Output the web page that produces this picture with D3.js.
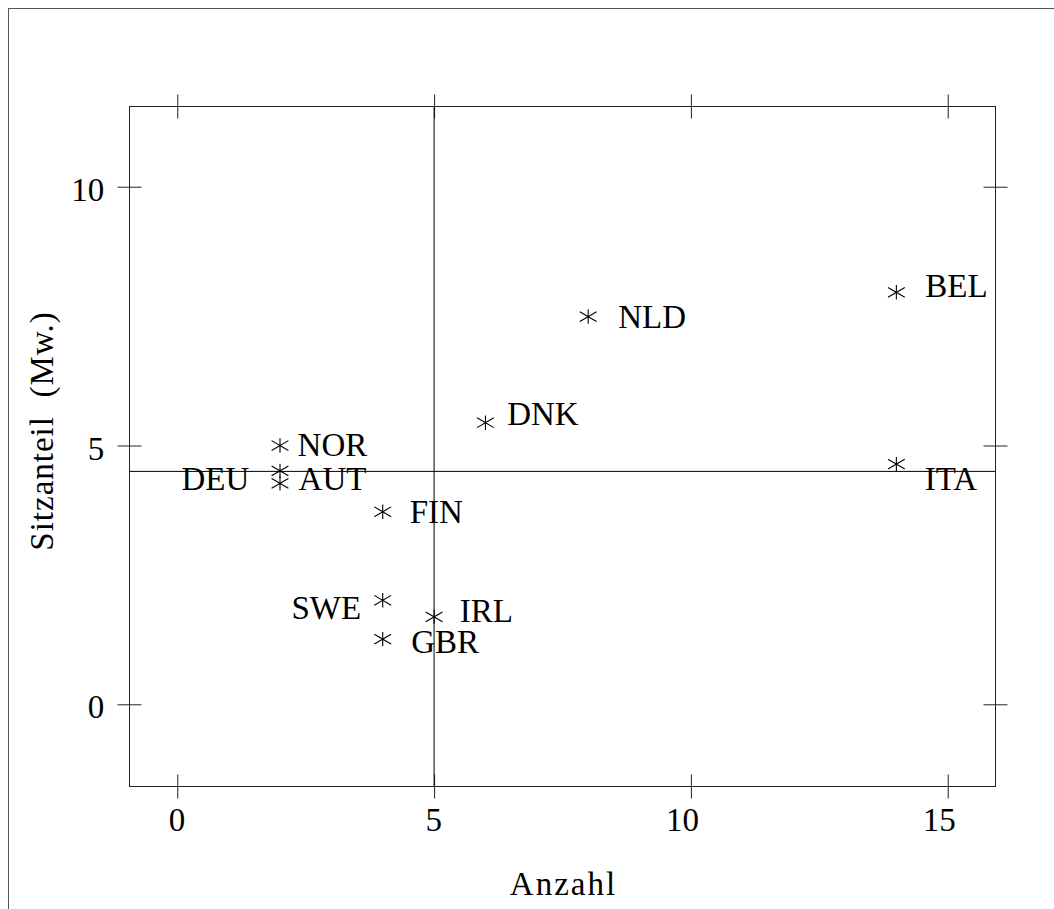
<!DOCTYPE html>
<html>
<head>
<meta charset="utf-8">
<script src="https://cdn.jsdelivr.net/npm/d3@7"></script>
<style>
  html, body { margin: 0; padding: 0; background: #fff; }
  svg { display: block; }
  text { font-family: "Liberation Serif", "DejaVu Serif", serif; fill: #000; }
</style>
</head>
<body>
<svg id="chart" width="1054" height="909"></svg>
<script>
// ---- data ----
const countries  = ["NOR", "AUT", "DEU", "FIN", "SWE", "IRL", "GBR", "DNK", "NLD", "BEL", "ITA"];
const anzahl     = [2, 2, 2, 4, 4, 5, 4, 6, 8, 14, 14];
const sitzanteil = [5.0, 4.51, 4.27, 3.72, 2.01, 1.69, 1.26, 5.44, 7.49, 7.96, 4.64];
const xTicks = [0, 5, 10, 15];
const yTicks = [0, 5, 10];
const xRefLine = 5;
const yRefLine = 4.5;
const xTitle = "Anzahl";
const yTitle = "Sitzanteil  (Mw.)";

// ---- label placement (pixel offsets from marker, anchor) ----
const labelPlacement = {
  NOR: [17.6, 0, "start"],
  AUT: [18.6, 8, "start"],
  DEU: [-30.7, -4.6, "end"],
  FIN: [27, 0, "start"],
  SWE: [-21.6, 7.7, "end"],
  IRL: [25.7, -5.4, "start"],
  GBR: [28.4, 2.7, "start"],
  DNK: [21.7, -8.4, "start"],
  NLD: [30, 0, "start"],
  BEL: [29, -6.5, "start"],
  ITA: [28.3, 15, "start"]
};

const FS = 33;
const svg = d3.select("#chart");
const box = { left: 129.5, right: 995.5, top: 106.5, bottom: 786.5 };

const x = d3.scaleLinear().domain([-0.93, 15.93]).range([box.left, box.right]);
const y = d3.scaleLinear().domain([-1.588, 11.55]).range([box.bottom, box.top]);

// outer frame (extends beyond the viewport on right/bottom)
svg.append("rect")
  .attr("x", 8.5).attr("y", 8.5).attr("width", 1200).attr("height", 1200)
  .attr("fill", "none").attr("stroke", "#555").attr("stroke-width", 1);

// plot box
svg.append("rect")
  .attr("x", box.left).attr("y", box.top)
  .attr("width", box.right - box.left).attr("height", box.bottom - box.top)
  .attr("fill", "none").attr("stroke", "#222").attr("stroke-width", 1);

// axes with crossing ticks
function crossTicks(g, dir) {
  g.select(".domain").remove();
  g.selectAll(".tick line").attr("stroke", "#222").attr("stroke-width", 1);
  if (dir === "v") g.selectAll(".tick line").attr("y1", -12);
  else g.selectAll(".tick line").attr("x1", -12);
}

const gxB = svg.append("g").attr("transform", `translate(0,${box.bottom})`)
  .call(d3.axisBottom(x).tickValues(xTicks).tickSizeInner(12).tickSizeOuter(0).tickFormat(d3.format("d")));
crossTicks(gxB, "v");
gxB.selectAll(".tick text")
  .attr("font-size", FS).attr("font-family", "Liberation Serif")
  .attr("text-anchor", "end").attr("x", 7.5).attr("y", 0).attr("dy", 0)
  .attr("transform", "translate(0,44.5)");

const gxT = svg.append("g").attr("transform", `translate(0,${box.top})`)
  .call(d3.axisBottom(x).tickValues(xTicks).tickSizeInner(12).tickSizeOuter(0).tickFormat(""));
crossTicks(gxT, "v");

const gyL = svg.append("g").attr("transform", `translate(${box.left},0)`)
  .call(d3.axisRight(y).tickValues(yTicks).tickSizeInner(12).tickSizeOuter(0).tickFormat(d3.format("d")));
crossTicks(gyL, "h");
gyL.selectAll(".tick text")
  .attr("font-size", FS).attr("font-family", "Liberation Serif")
  .attr("text-anchor", "end").attr("x", -25.2).attr("dy", 0).attr("y", 13.5);

const gyR = svg.append("g").attr("transform", `translate(${box.right},0)`)
  .call(d3.axisRight(y).tickValues(yTicks).tickSizeInner(12).tickSizeOuter(0).tickFormat(""));
crossTicks(gyR, "h");

// reference lines
svg.append("line")
  .attr("x1", x(xRefLine)).attr("x2", x(xRefLine))
  .attr("y1", box.top).attr("y2", box.bottom)
  .attr("stroke", "#000").attr("stroke-width", 1);
svg.append("line")
  .attr("x1", box.left).attr("x2", box.right)
  .attr("y1", y(yRefLine)).attr("y2", y(yRefLine))
  .attr("stroke", "#000").attr("stroke-width", 1);

// asterisk marker
const asterisk = {
  draw(ctx) {
    const v = 7.2, dx = 8.4, dy = 4.9;
    ctx.moveTo(0, -v); ctx.lineTo(0, v);
    ctx.moveTo(-dx, -dy); ctx.lineTo(dx, dy);
    ctx.moveTo(-dx, dy); ctx.lineTo(dx, -dy);
  }
};
const pts = countries.map((c, i) => ({ c, xv: anzahl[i], yv: sitzanteil[i] }));

svg.append("g").selectAll("path").data(pts).join("path")
  .attr("d", d3.symbol().type(asterisk))
  .attr("transform", d => `translate(${x(d.xv)},${y(d.yv)})`)
  .attr("fill", "none").attr("stroke", "#000").attr("stroke-width", 1.1);

svg.append("g").selectAll("text").data(pts).join("text")
  .attr("x", d => x(d.xv) + labelPlacement[d.c][0])
  .attr("y", d => y(d.yv) + labelPlacement[d.c][1])
  .attr("dy", "0.33em")
  .attr("text-anchor", d => labelPlacement[d.c][2])
  .attr("font-size", FS)
  .text(d => d.c);

// axis titles
svg.append("text")
  .attr("x", (box.left + box.right) / 2 + 1).attr("y", 895)
  .attr("text-anchor", "middle").attr("font-size", FS)
  .attr("letter-spacing", 2)
  .text(xTitle);
svg.append("text")
  .attr("transform", "translate(53,431) rotate(-90)")
  .attr("text-anchor", "middle").attr("font-size", FS)
  .attr("letter-spacing", 1)
  .style("white-space", "pre")
  .text(yTitle);
</script>
</body>
</html>
